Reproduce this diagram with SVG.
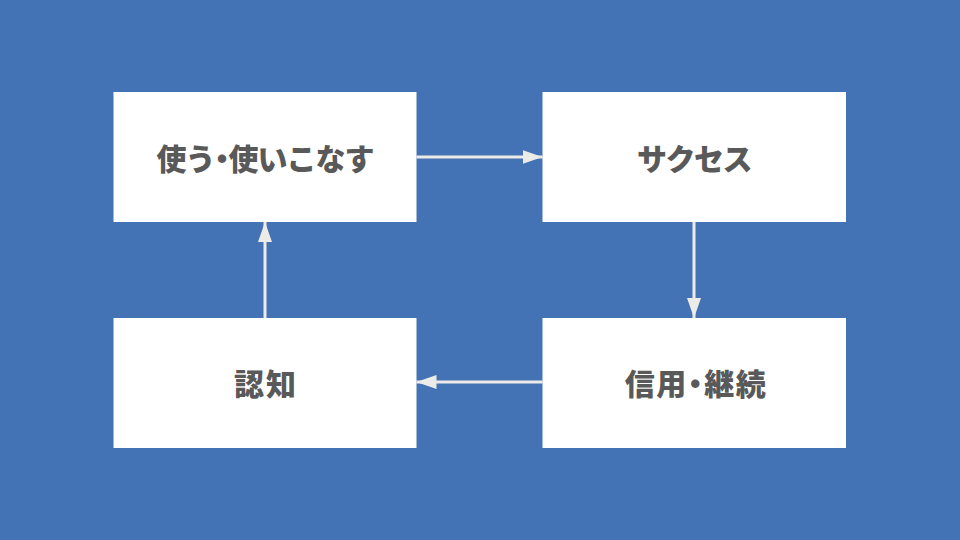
<svg xmlns="http://www.w3.org/2000/svg" width="960" height="540" viewBox="0 0 960 540">
<defs>
<style>
.box{fill:#FFFFFF;}
.lbl{font-family:"Noto Sans CJK JP","Noto Sans CJK SC",sans-serif;font-weight:900;font-size:30px;fill:#595959;text-anchor:middle;dominant-baseline:central;}
.half{font-feature-settings:"halt" 1;}
.conn{stroke:#EDEBE8;stroke-width:3;fill:none;marker-end:url(#ah);}
</style>
<marker id="ah" viewBox="0 0 20 14" refX="20" refY="7" markerWidth="20" markerHeight="14" markerUnits="userSpaceOnUse" orient="auto">
<path d="M0,0 L20,7 L0,14 Z" fill="#EDEBE8"/>
</marker>
</defs>
<rect width="960" height="540" fill="#4473B5"/>
<g id="connectors">
<line class="conn" x1="416.5" y1="157" x2="542.5" y2="157"/>
<line class="conn" x1="694" y1="222" x2="694" y2="318"/>
<line class="conn" x1="542.5" y1="382" x2="416.5" y2="382"/>
<line class="conn" x1="265" y1="318" x2="265" y2="222"/>
</g>
<g id="node-tsukau">
<rect class="box" x="113.5" y="92" width="303" height="130"/>
<text class="lbl" x="265" y="157" letter-spacing="-1">使う<tspan class="half">・</tspan>使いこなす</text>
</g>
<g id="node-success">
<rect class="box" x="542.5" y="92" width="303.5" height="130"/>
<text class="lbl" x="694" y="157" letter-spacing="-1.5">サクセス</text>
</g>
<g id="node-shinyo">
<rect class="box" x="542.5" y="318" width="303.5" height="130"/>
<text class="lbl" x="696" y="382" letter-spacing="1.5">信用<tspan class="half">・</tspan>継続</text>
</g>
<g id="node-ninchi">
<rect class="box" x="113.5" y="318" width="303" height="130"/>
<text class="lbl" x="266" y="382" letter-spacing="2">認知</text>
</g>
</svg>
